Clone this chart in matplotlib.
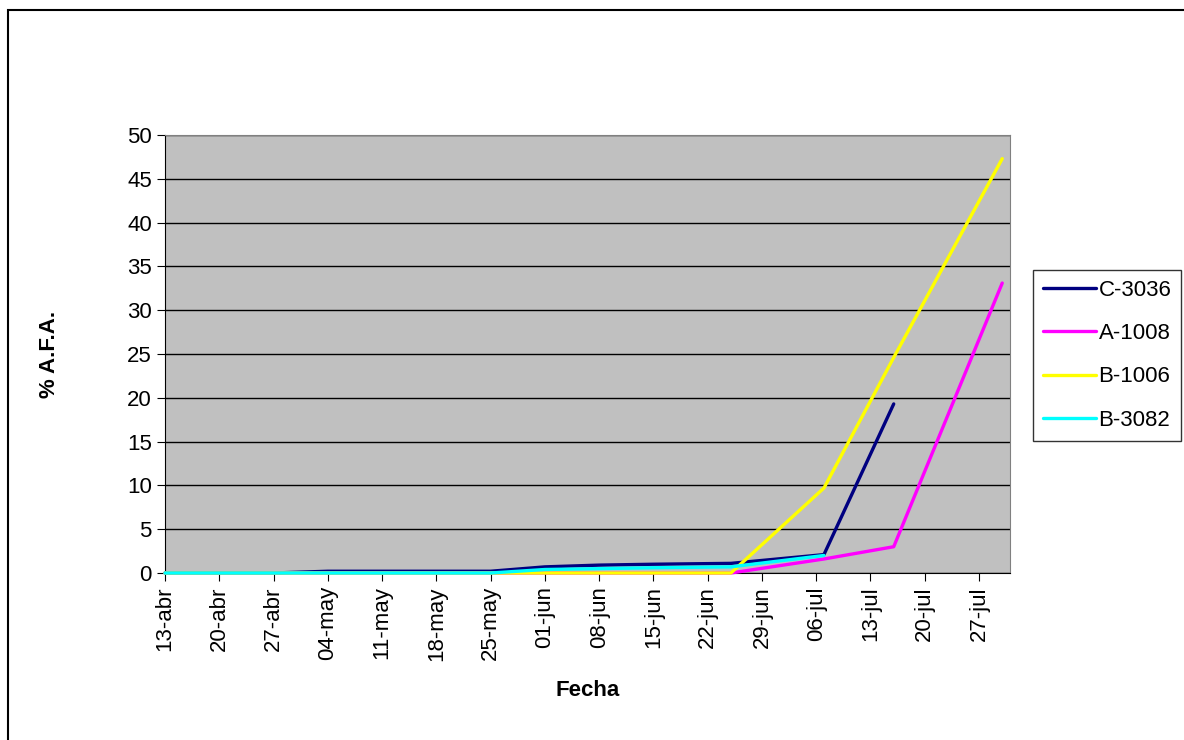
import matplotlib
matplotlib.use("Agg")
import matplotlib.pyplot as plt
import matplotlib.dates as mdates
from matplotlib.patches import Rectangle
from datetime import date, timedelta

plt.rcParams["font.family"] = ["Liberation Sans", "DejaVu Sans"]

# ---------------------------------------------------------------------------
# Data
# ---------------------------------------------------------------------------
fechas = ["2009-04-13", "2009-04-27", "2009-05-04", "2009-05-11", "2009-05-18",
          "2009-05-25", "2009-06-01", "2009-06-08", "2009-06-15", "2009-06-25",
          "2009-07-07", "2009-07-16", "2009-07-30"]

c3036 = [0, 0, 0.2, 0.2, 0.2, 0.2, 0.7, 0.9, 1.0, 1.1, 2.1, 19.3, None]
a1008 = [0, 0, 0, 0, 0, 0, 0, 0, 0, 0, 1.6, 3.0, 33.1]
b1006 = [0, 0, 0, 0, 0, 0, 0, 0, 0, 0, 9.7, 24.6, 47.3]
b3082 = [0, 0, 0, 0, 0, 0, 0.4, 0.5, 0.6, 0.7, 2.0, None, None]

series = [("C-3036", c3036, "#000080"),
          ("A-1008", a1008, "#FF00FF"),
          ("B-1006", b1006, "#FFFF00"),
          ("B-3082", b3082, "#00FFFF")]

tick_labels = ["13-abr", "20-abr", "27-abr", "04-may", "11-may", "18-may",
               "25-may", "01-jun", "08-jun", "15-jun", "22-jun", "29-jun",
               "06-jul", "13-jul", "20-jul", "27-jul"]

# ---------------------------------------------------------------------------
# Plot
# ---------------------------------------------------------------------------
x = [date.fromisoformat(f) for f in fechas]
start = date(2009, 4, 13)
tick_dates = [start + timedelta(days=7 * i) for i in range(len(tick_labels))]

fig = plt.figure(figsize=(11.84, 7.4), dpi=100)
fig.patches.append(Rectangle((8 / 1184, -0.05), 1.2, 1 - 10 / 740 + 0.05,
                             transform=fig.transFigure, fill=False,
                             edgecolor="black", linewidth=1.5, zorder=0))

ax = fig.add_axes([165 / 1184, 1 - 573 / 740, 845 / 1184, 438 / 740])
ax.set_facecolor("#C0C0C0")

for name, vals, col in series:
    xs = [d for d, v in zip(x, vals) if v is not None]
    ys = [v for v in vals if v is not None]
    ax.plot(xs, ys, color=col, lw=2.4, label=name, solid_capstyle="round",
            clip_on=False, zorder=3)

ax.set_xlim(start, date(2009, 7, 31))
ax.set_ylim(0, 50)
ax.set_yticks(range(0, 51, 5))
ax.yaxis.grid(True, color="black", lw=1.0)
ax.set_axisbelow(True)

ax.set_xticks([mdates.date2num(d) for d in tick_dates])
ax.set_xticklabels(tick_labels, rotation=90, fontsize=16)
ax.tick_params(axis="y", labelsize=16, direction="out", length=6, color="black")
ax.tick_params(axis="x", direction="out", length=6, color="black")

for side in ["top", "right"]:
    ax.spines[side].set_color("#808080")
ax.spines["left"].set_color("black")
ax.spines["bottom"].set_color("black")

ax.set_xlabel("Fecha", fontsize=16, fontweight="bold", labelpad=14)
ax.set_ylabel("% A.F.A.", fontsize=16, fontweight="bold", labelpad=48)

leg = fig.legend(loc="upper left", bbox_to_anchor=(1033 / 1184, 1 - 270 / 740),
                 fontsize=16, frameon=True, fancybox=False, handlelength=2.4,
                 handletextpad=0.1, labelspacing=1.0, borderpad=0.45,
                 borderaxespad=0.0)
leg.get_frame().set_edgecolor("black")
leg.get_frame().set_linewidth(1.0)

fig.savefig("out.png", dpi=100)
